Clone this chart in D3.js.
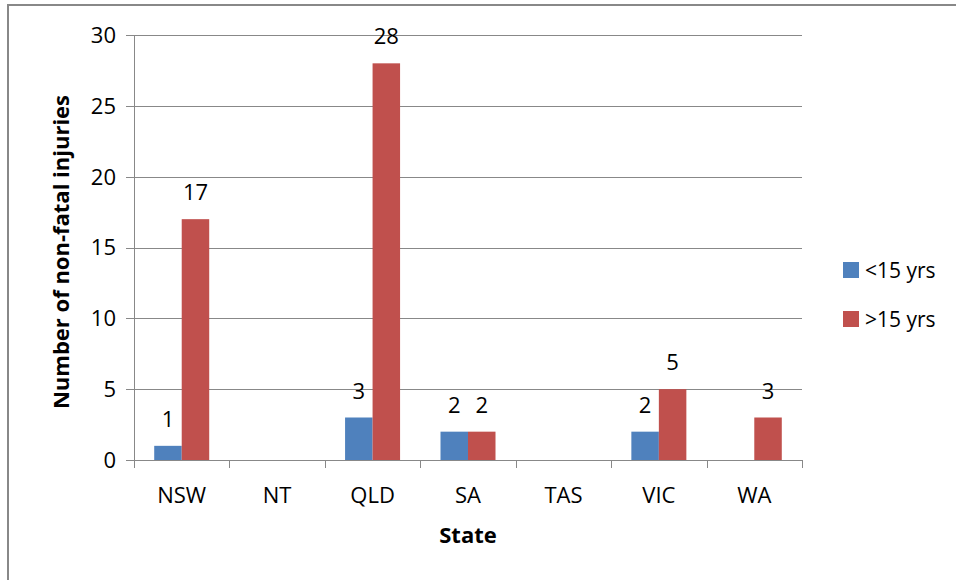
<!DOCTYPE html>
<html>
<head>
<meta charset="utf-8">
<script src="https://cdn.jsdelivr.net/npm/d3@7"></script>
<style>
  body { margin: 0; background: #fff; }
  text { font-family: "Open Sans", Calibri, sans-serif; fill: #000; }
</style>
</head>
<body>
<div id="chart"></div>
<script>
var states = ["NSW", "NT", "QLD", "SA", "TAS", "VIC", "WA"];
var seriesNames = ["<15 yrs", ">15 yrs"];
var under15 = [1, null, 3, 2, null, 2, null];
var over15 = [17, null, 28, 2, null, 5, 3];
var yTicks = [0, 5, 10, 15, 20, 25, 30];
var colors = ["#4F81BD", "#C0504D"];

var W = 956, H = 580;
var margin = {top: 35, right: 154, bottom: 120, left: 134};
var width = W - margin.left - margin.right;
var height = H - margin.top - margin.bottom;

var svg = d3.select("#chart").append("svg")
    .attr("width", W)
    .attr("height", H);

// outer frame (right/bottom run off the picture)
svg.append("rect")
    .attr("x", 8).attr("y", 5)
    .attr("width", W + 20).attr("height", H + 20)
    .attr("fill", "none")
    .attr("stroke", "#888")
    .attr("stroke-width", 2);

var g = svg.append("g")
    .attr("transform", "translate(" + margin.left + "," + margin.top + ")");

var x = d3.scaleBand().domain(states).range([0, width]).paddingInner(0).paddingOuter(0);
var y = d3.scaleLinear().domain([0, 30]).range([height, 0]);

// gridlines
g.selectAll(".grid")
    .data(yTicks)
    .enter().append("line")
    .attr("x1", -8).attr("x2", width)
    .attr("y1", function(d) { return Math.round(y(d)) + 0.5; })
    .attr("y2", function(d) { return Math.round(y(d)) + 0.5; })
    .attr("stroke", "#888")
    .attr("stroke-width", 1);

// y axis line
g.append("line")
    .attr("x1", 0.5).attr("x2", 0.5)
    .attr("y1", 0).attr("y2", height)
    .attr("stroke", "#888");

// y tick labels
g.selectAll(".ylab")
    .data(yTicks)
    .enter().append("text")
    .attr("x", -18)
    .attr("y", function(d) { return y(d); })
    .attr("dy", "0.36em")
    .attr("text-anchor", "end")
    .style("font-size", "22px")
    .text(function(d) { return d; });

// x axis ticks
var xTickPos = states.map(function(s) { return x(s); }).concat([width]);
g.selectAll(".xtick")
    .data(xTickPos)
    .enter().append("line")
    .attr("x1", function(d) { return Math.round(d) + 0.5; })
    .attr("x2", function(d) { return Math.round(d) + 0.5; })
    .attr("y1", height).attr("y2", height + 8)
    .attr("stroke", "#888");

g.selectAll(".xlab")
    .data(states)
    .enter().append("text")
    .attr("x", function(d) { return x(d) + x.bandwidth() / 2; })
    .attr("y", height + 43)
    .attr("text-anchor", "middle")
    .style("font-size", "22px")
    .text(function(d) { return d; });

// bars
var barW = 27.5;
var series = [under15, over15];
series.forEach(function(vals, si) {
  var data = states.map(function(s, i) { return {state: s, v: vals[i]}; })
      .filter(function(d) { return d.v !== null; });
  var bx = function(d) { return x(d.state) + x.bandwidth() / 2 + (si - 1) * barW; };
  g.selectAll(".bar" + si)
      .data(data)
      .enter().append("rect")
      .attr("x", bx)
      .attr("y", function(d) { return y(d.v); })
      .attr("width", barW)
      .attr("height", function(d) { return height - y(d.v); })
      .attr("fill", colors[si]);
  g.selectAll(".val" + si)
      .data(data)
      .enter().append("text")
      .attr("x", function(d) { return bx(d) + barW / 2; })
      .attr("y", function(d) { return y(d.v) - 19; })
      .attr("text-anchor", "middle")
      .style("font-size", "22px")
      .text(function(d) { return d.v; });
});

// axis titles
svg.append("text")
    .attr("x", margin.left + width / 2)
    .attr("y", 543)
    .attr("text-anchor", "middle")
    .style("font-size", "22px")
    .style("font-weight", "bold")
    .text("State");

svg.append("text")
    .attr("transform", "translate(69,252) rotate(-90)")
    .attr("text-anchor", "middle")
    .style("font-size", "22px")
    .style("font-weight", "bold")
    .text("Number of non-fatal injuries");

// legend
var legend = svg.selectAll(".legend")
    .data(seriesNames)
    .enter().append("g")
    .attr("transform", function(d, i) { return "translate(843," + (262 + i * 49) + ")"; });

legend.append("rect")
    .attr("width", 16).attr("height", 16)
    .attr("fill", function(d, i) { return colors[i]; });

legend.append("text")
    .attr("x", 22)
    .attr("y", 8)
    .attr("dy", "0.36em")
    .style("font-size", "21px")
    .text(function(d) { return d; });
</script>
</body>
</html>
